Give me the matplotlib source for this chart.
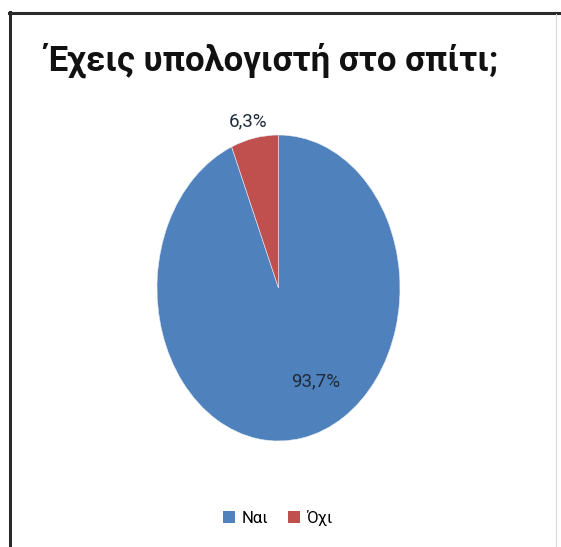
import matplotlib
matplotlib.use("Agg")
import matplotlib.pyplot as plt
from matplotlib.lines import Line2D
from matplotlib.patches import Patch

# Survey answers: "Do you have a computer at home?"
categories = ["Ναι", "Όχι"]
shares = [93.7, 6.3]
colors = ["#4F81BD", "#C0504D"]
title = "Έχεις υπολογιστή στο σπίτι;"

W, H = 561, 547
fig = plt.figure(figsize=(W / 100, H / 100), dpi=100)
fig.patch.set_facecolor("white")

def fx(px):
    return px / W

def fy(py):
    return 1 - py / H

# chart frame (top, left, faint right edge)
fig.add_artist(Line2D([fx(9), fx(561)], [fy(12.5), fy(12.5)], color="#2a2a2a", lw=2.2))
fig.add_artist(Line2D([fx(9.5), fx(9.5)], [fy(12), fy(547)], color="#2a2a2a", lw=2.2))
fig.add_artist(Line2D([fx(556), fx(556)], [fy(14), fy(547)], color="#d8d8d8", lw=0.8))

# pie drawn as an ellipse: stretched axes box
left, right, top, bottom = 157, 400, 135, 441
ax = fig.add_axes([fx(left), fy(bottom), fx(right - left), (bottom - top) / H])
wedges, _ = ax.pie(shares, colors=colors, startangle=90, counterclock=False,
                   radius=1.0, wedgeprops=dict(linewidth=0.4, edgecolor="#e8eef6"))
ax.set_aspect("auto")
ax.set_xlim(-1, 1)
ax.set_ylim(-1, 1)
ax.axis("off")

fmt = lambda v: f"{v:.1f}%".replace(".", ",")
fam = ["Roboto", "Open Sans", "DejaVu Sans"]

# percentage labels
lab_font = dict(family=fam, fontsize=13.5, color="#1f2a3a")
ax.text(-0.25, 1.09, fmt(shares[1]), ha="center", va="center", clip_on=False, **lab_font)
ax.text(0.31, -0.61, fmt(shares[0]), ha="center", va="center", clip_on=False, **lab_font)

# title
fig.text(fx(272), fy(60), title, ha="center", va="center", fontsize=25, fontweight="bold",
         family=fam, color="#111111")

# legend
handles = [Patch(facecolor=c, edgecolor="none") for c in colors]
fig.legend(handles, categories, loc="center", bbox_to_anchor=(fx(278), fy(518)), ncol=2,
           frameon=False, handlelength=0.7, handleheight=0.7, handletextpad=0.4,
           columnspacing=1.2, prop=dict(family=fam, size=12))

fig.savefig("out.png", dpi=100, facecolor="white")
